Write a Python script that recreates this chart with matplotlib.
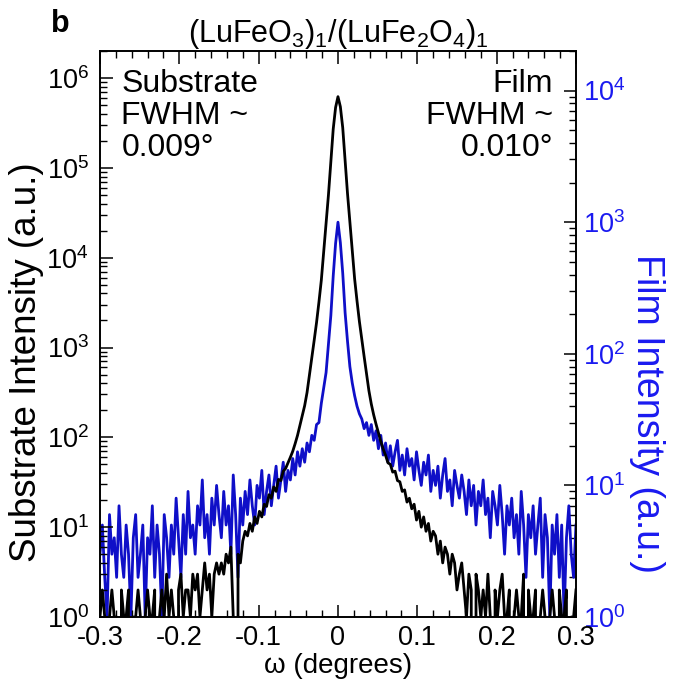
import numpy as np
import matplotlib
matplotlib.use("Agg")
import matplotlib.pyplot as plt
from matplotlib.ticker import LogLocator, MultipleLocator, NullFormatter, FixedLocator

plt.rcParams['font.family'] = ['Liberation Sans', 'DejaVu Sans']
plt.rcParams['mathtext.fontset'] = 'custom'
plt.rcParams['mathtext.rm'] = 'Liberation Sans'
plt.rcParams['mathtext.it'] = 'Liberation Sans:italic'
plt.rcParams['mathtext.bf'] = 'Liberation Sans:bold'

# ---- data ----
omega_start = -0.300
omega_step = 0.003
n_points = 201
omega = np.round(omega_start + omega_step * np.arange(n_points), 4)

substrate = [
    1, 2, 1, 0, 1, 2, 1, 1, 0, 2,
    1, 1, 2, 0, 1, 1, 2, 1, 0, 1,
    2, 1, 1, 2, 0, 1, 2, 1, 3, 1,
    2, 1, 0, 2, 3, 1, 2, 2, 1, 3,
    2, 3, 1, 2, 4, 2, 3, 1, 3, 4,
    3, 4, 3, 5, 4, 6, 1, 0, 5, 4,
    7, 9, 8, 11, 9, 13, 11, 15, 13, 18,
    17, 23, 21, 28, 25, 34, 33, 42, 45, 52,
    60, 70, 85, 105, 135, 172, 225, 315, 490, 770,
    1200, 1900, 3200, 5600, 11500, 24000, 50000, 115000, 270000, 470000,
    620000,
    480000, 280000, 120000, 52000, 25000, 12000, 5800, 3300, 1950, 1230,
    790, 510, 330, 235, 178, 140, 112, 90, 74, 63,
    52, 50, 41, 42, 33, 32, 25, 26, 19, 21,
    16, 18, 12, 15, 10, 13, 9, 11, 7, 9,
    8, 5, 7, 4, 6, 5, 3, 5, 4, 2,
    3, 4, 2, 1, 3, 2, 0, 3, 2, 1,
    2, 1, 3, 1, 0, 2, 1, 2, 3, 1,
    1, 2, 0, 1, 2, 1, 1, 3, 0, 2,
    1, 1, 2, 0, 1, 2, 1, 0, 1, 2,
    1, 0, 2, 1, 1, 2, 0, 1, 1, 2,
]

film = [
    3, 5, 2, 1, 6, 3, 4, 2, 7, 3,
    2, 5, 3, 1, 4, 6, 2, 3, 5, 1,
    4, 3, 7, 2, 5, 3, 1, 6, 4, 2,
    5, 3, 8, 4, 2, 6, 3, 9, 4, 5,
    3, 7, 5, 11, 4, 6, 3, 8, 5, 10,
    6, 4, 9, 5, 7, 3, 12, 6, 2, 8,
    5, 9, 6, 11, 7, 5, 10, 8, 13, 6,
    9, 12, 7, 10, 14, 8, 11, 15, 9, 13,
    11, 16, 12, 18, 14, 19, 15, 21, 18, 24,
    22, 29, 30, 42, 55, 72, 118, 195, 390, 690,
    1000,
    700, 410, 205, 125, 80, 60, 48, 40, 35, 32,
    27, 30, 24, 29, 22, 26, 19, 24, 17, 21,
    15, 20, 14, 18, 22, 13, 17, 12, 19, 14,
    16, 11, 18, 13, 10, 15, 12, 17, 9, 13,
    10, 14, 8, 12, 16, 9, 11, 7, 13, 10,
    8, 12, 9, 6, 11, 7, 10, 5, 9, 7,
    11, 6, 8, 4, 9, 7, 5, 10, 6, 3,
    7, 5, 8, 4, 6, 3, 9, 5, 2, 6,
    4, 7, 3, 5, 8, 2, 6, 4, 1, 5,
    3, 6, 2, 5, 1, 4, 7, 3, 2, 5,
]

x_ticks = [-0.3, -0.2, -0.1, 0.0, 0.1, 0.2, 0.3]
x_tick_labels = ["-0.3", "-0.2", "-0.1", "0", "0.1", "0.2", "0.3"]

title = r"(LuFeO$_3$)$_1$/(LuFe$_2$O$_4$)$_1$"
sub_text = "Substrate\nFWHM ~\n0.009°"
film_text = "Film\nFWHM ~\n0.010°"

black = "#000000"
blue = "#0f0fc8"
blue_text = "#1a1af0"

# ---- figure ----
fig = plt.figure(figsize=(6.75, 6.87), dpi=100)
ax1 = fig.add_axes([0.1481, 0.1019, 0.7052, 0.8239])
ax2 = ax1.twinx()
ax1.set_zorder(2)
ax2.set_zorder(1)
ax1.patch.set_visible(False)

ax2.plot(omega, film, color=blue, lw=2.0)
ax1.plot(omega, substrate, color=black, lw=2.0)

ax1.set_yscale('log')
ax2.set_yscale('log')
ax1.set_xlim(-0.3, 0.3)
ax1.set_ylim(1, 2e6)
ax2.set_ylim(1, 2e4)

tick_fs = 19.5
ax1.xaxis.set_major_locator(FixedLocator(x_ticks))
ax1.set_xticklabels(x_tick_labels)
ax1.xaxis.set_minor_locator(MultipleLocator(0.02))

for ax in (ax1, ax2):
    ax.yaxis.set_major_locator(LogLocator(base=10, numticks=20))
    ax.yaxis.set_minor_locator(LogLocator(base=10, subs=np.arange(2, 10), numticks=20))
    ax.yaxis.set_minor_formatter(NullFormatter())

ax1.tick_params(axis='x', which='both', direction='in', top=True, bottom=True,
                labelsize=tick_fs, pad=6)
ax1.tick_params(axis='x', which='major', length=9, width=1.1)
ax1.tick_params(axis='x', which='minor', length=5, width=1.0)
ax1.tick_params(axis='y', which='both', direction='in', left=True, right=False,
                labelsize=tick_fs, pad=8)
ax1.tick_params(axis='y', which='major', length=9, width=1.1)
ax1.tick_params(axis='y', which='minor', length=5, width=1.0)
ax2.tick_params(axis='y', which='both', direction='in', right=True, left=False,
                labelsize=tick_fs, labelcolor=blue_text, colors=black, pad=5)
ax2.tick_params(axis='y', which='major', length=9, width=1.1)
ax2.tick_params(axis='y', which='minor', length=5, width=1.0)
for lab in ax2.get_yticklabels():
    lab.set_color(blue_text)

for ax in (ax1, ax2):
    for s in ax.spines.values():
        s.set_linewidth(1.2)
        s.set_color(black)

ax1.set_xlabel("ω (degrees)", fontsize=20, labelpad=1)
ax1.set_ylabel("Substrate Intensity (a.u.)", fontsize=26.5)
ax1.yaxis.set_label_coords(-0.117, 0.45)
ax2.set_ylabel("Film Intensity (a.u.)", fontsize=27, color=blue_text,
               rotation=270, va='center', ha='center')
ax2.yaxis.set_label_coords(1.15, 0.36)

ax1.set_title(title, fontsize=22, pad=5)
fig.text(0.075, 0.965, "b", fontsize=22, fontweight='bold', ha='left', va='center')

ax1.text(0.045, 0.968, sub_text, transform=ax1.transAxes, ha='left', va='top',
         fontsize=23, linespacing=1.08)
ax1.text(0.952, 0.968, film_text, transform=ax1.transAxes, ha='right', va='top',
         fontsize=23, linespacing=1.08, multialignment='right')

fig.savefig("out.png", dpi=100)
